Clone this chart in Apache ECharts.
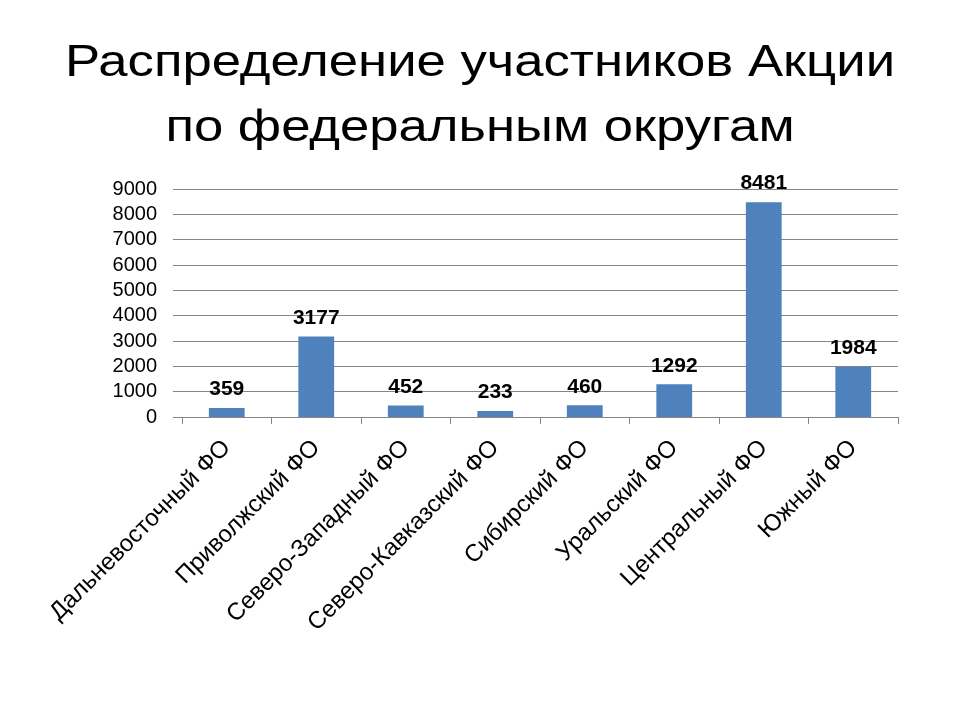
<!DOCTYPE html>
<html><head><meta charset="utf-8">
<script src="https://cdn.jsdelivr.net/npm/echarts@6/dist/echarts.min.js"></script>
<style>html,body{margin:0;padding:0;background:#fff}#c{width:960px;height:720px}</style>
</head><body><div id="c"></div>
<script>
const titleLines = ["Распределение участников Акции", "по федеральным округам"];
const categories = ["Дальневосточный ФО","Приволжский ФО","Северо-Западный ФО","Северо-Кавказский ФО","Сибирский ФО","Уральский ФО","Центральный ФО","Южный ФО"];
const values = [359, 3177, 452, 233, 460, 1292, 8481, 1984];
const yMax = 9000, yStep = 1000;

const titleFont = 'normal 45px "Liberation Sans", Arial, sans-serif';
const chart = echarts.init(document.getElementById('c'), null, {renderer:'canvas'});
chart.setOption({
  animation:false,
  graphic:[
    {type:'text', x:480, y:64, scaleX:1.17, style:{text:titleLines[0], x:0, y:0, align:'center', verticalAlign:'middle', font:titleFont, fill:'#000'}},
    {type:'text', x:480, y:129, scaleX:1.17, style:{text:titleLines[1], x:0, y:0, align:'center', verticalAlign:'middle', font:titleFont, fill:'#000'}}
  ],
  grid:{left:182, right:62, top:189, bottom:303, containLabel:false},
  xAxis:{
    type:'category', data:categories,
    axisLine:{show:true, lineStyle:{color:'#868686', width:1}},
    axisTick:{show:true, length:7, lineStyle:{color:'#868686'}},
    axisLabel:{rotate:45, interval:0, margin:27, fontFamily:'Liberation Sans', fontSize:24, color:'#000'}
  },
  yAxis:{
    type:'value', min:0, max:yMax, interval:yStep,
    axisLine:{show:false},
    axisTick:{show:true, length:9, lineStyle:{color:'#868686'}},
    splitLine:{show:true, lineStyle:{color:'#868686', width:1}},
    axisLabel:{margin:25, fontFamily:'Liberation Sans', fontSize:20, color:'#000', formatter: v => String(v)}
  },
  series:[{
    type:'bar', data:values, barWidth:'40%',
    itemStyle:{color:'#4F81BD'},
    label:{show:true, position:'top', distance:8, fontFamily:'Liberation Sans', fontWeight:'bold', fontSize:21, color:'#000'}
  }]
});
</script></body></html>
